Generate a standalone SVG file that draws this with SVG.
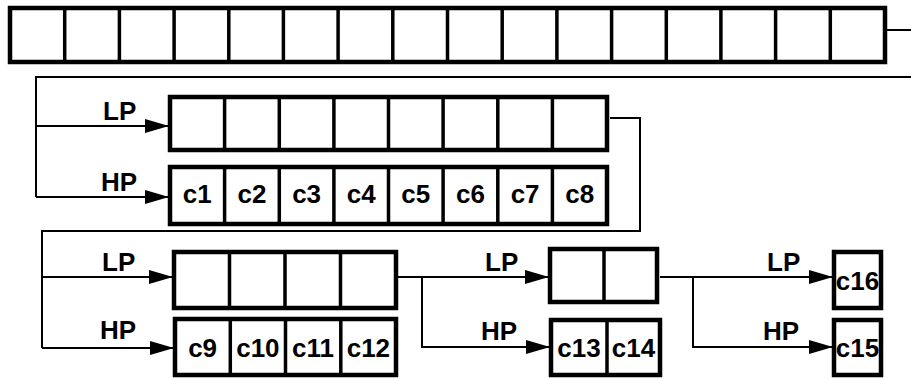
<svg xmlns="http://www.w3.org/2000/svg" width="911" height="379" viewBox="0 0 911 379">
<style>
.box{fill:#fff;stroke:#000;stroke-width:4.5}
.div{stroke:#000;stroke-width:3.5}
.ln{fill:none;stroke:#000;stroke-width:2}
.lbl{font-family:"Liberation Sans",Arial,sans-serif;font-weight:bold;font-size:26px;fill:#000}
.cl{font-family:"Liberation Sans",Arial,sans-serif;font-weight:bold;font-size:26px;fill:#000;text-anchor:middle}
</style>
<defs>
<marker id="ah" markerWidth="24" markerHeight="14" refX="24" refY="7" orient="auto" markerUnits="userSpaceOnUse">
<path d="M0,0 L24,7 L0,14 Z" fill="#000"/>
</marker>
</defs>
<rect width="911" height="379" fill="#fff"/>

<g id="connectors">
<path class="ln" d="M885,30 H911"/>
<path class="ln" d="M911,77 H36 V197"/>
<path class="ln" d="M36,126 H169" marker-end="url(#ah)"/>
<path class="ln" d="M36,197 H169" marker-end="url(#ah)"/>
<path class="ln" d="M610,118 H640 V231 H42 V348"/>
<path class="ln" d="M42,277 H173" marker-end="url(#ah)"/>
<path class="ln" d="M42,348 H174" marker-end="url(#ah)"/>
<path class="ln" d="M398,277 H549" marker-end="url(#ah)"/>
<path class="ln" d="M422,277 V347 H550" marker-end="url(#ah)"/>
<path class="ln" d="M660,277 H833" marker-end="url(#ah)"/>
<path class="ln" d="M693,277 V347 H833" marker-end="url(#ah)"/>
<text class="lbl" x="103" y="120">LP</text>
<text class="lbl" x="101" y="191">HP</text>
<text class="lbl" x="102" y="271">LP</text>
<text class="lbl" x="100" y="339">HP</text>
<text class="lbl" x="485" y="271">LP</text>
<text class="lbl" x="481" y="340">HP</text>
<text class="lbl" x="767" y="271">LP</text>
<text class="lbl" x="763" y="340">HP</text>
</g>

<g id="input">
<rect class="box" x="10" y="8" width="875" height="54"/>
<path class="div" d="M64.7,8V62M119.4,8V62M174.1,8V62M228.8,8V62M283.4,8V62M338.1,8V62M392.8,8V62M447.5,8V62M502.2,8V62M556.9,8V62M611.6,8V62M666.3,8V62M720.9,8V62M775.6,8V62M830.3,8V62"/>
</g>

<g id="lp1">
<rect class="box" x="170" y="97" width="437" height="53"/>
<path class="div" d="M224.6,97V150M279.3,97V150M333.9,97V150M388.5,97V150M443.1,97V150M497.8,97V150M552.4,97V150"/>
</g>

<g id="hp1">
<rect class="box" x="170" y="167" width="437" height="57"/>
<path class="div" d="M224.6,167V224M279.3,167V224M333.9,167V224M388.5,167V224M443.1,167V224M497.8,167V224M552.4,167V224"/>
<text class="cl" x="197.3" y="203">c1</text>
<text class="cl" x="252" y="203">c2</text>
<text class="cl" x="306.6" y="203">c3</text>
<text class="cl" x="361.2" y="203">c4</text>
<text class="cl" x="415.8" y="203">c5</text>
<text class="cl" x="470.5" y="203">c6</text>
<text class="cl" x="525.1" y="203">c7</text>
<text class="cl" x="579.7" y="203">c8</text>
</g>

<g id="lp2">
<rect class="box" x="174" y="252" width="222" height="56"/>
<path class="div" d="M229.5,252V308M285,252V308M340.5,252V308"/>
</g>

<g id="hp2">
<rect class="box" x="175" y="319" width="221" height="56"/>
<path class="div" d="M230.3,319V375M285.5,319V375M340.8,319V375"/>
<text class="cl" x="202.6" y="357">c9</text>
<text class="cl" x="257.9" y="357">c10</text>
<text class="cl" x="313.1" y="357">c11</text>
<text class="cl" x="368.4" y="357">c12</text>
</g>

<g id="lp3">
<rect class="box" x="550" y="249" width="107" height="53"/>
<path class="div" d="M604,249V302"/>
</g>

<g id="hp3">
<rect class="box" x="551" y="320" width="109" height="55"/>
<path class="div" d="M607,320V375"/>
<text class="cl" x="579" y="357">c13</text>
<text class="cl" x="633.5" y="357">c14</text>
</g>

<g id="c16box">
<rect class="box" x="834" y="252" width="47" height="56"/>
<text class="cl" x="857.5" y="290">c16</text>
</g>

<g id="c15box">
<rect class="box" x="834" y="320" width="47" height="55"/>
<text class="cl" x="857.5" y="357">c15</text>
</g>
</svg>
